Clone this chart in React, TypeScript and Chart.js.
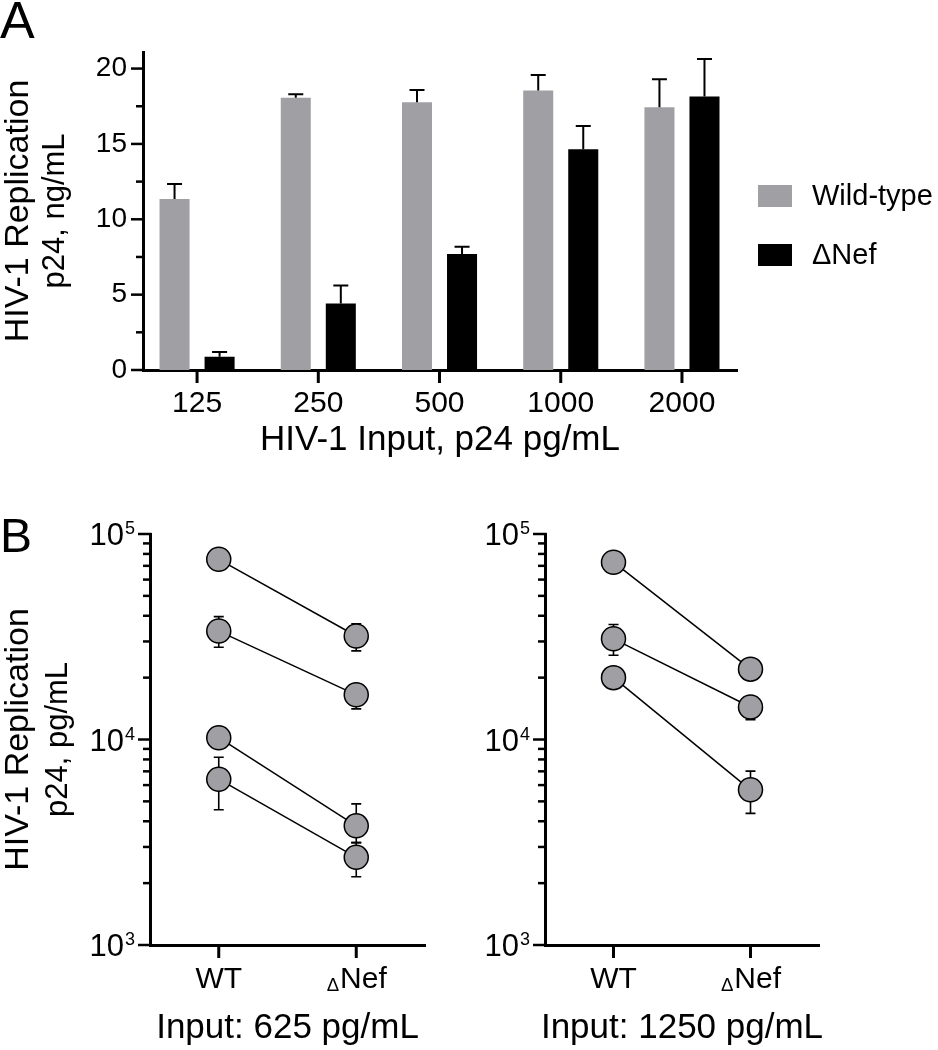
import React, { useEffect, useRef } from 'react';
import { Chart, registerables } from 'chart.js';

Chart.register(...registerables);

const FONT = '"Liberation Sans", Arial, Helvetica, sans-serif';
const GREY = '#a09fa4';
const POINT_GREY = '#a0a0a4';
const BLACK = '#000000';

// ---------- Panel A data ----------
const inputLevels = ['125', '250', '500', '1000', '2000'];
const seriesNames = ['Wild-type', 'ΔNef'];
const wildType = [11.35, 18.07, 17.76, 18.54, 17.43];
const wildTypeUpper = [12.34, 18.3, 18.58, 19.57, 19.29];
const deltaNef = [0.88, 4.42, 7.7, 14.64, 18.14];
const deltaNefUpper = [1.2, 5.6, 8.18, 16.19, 20.64];
const yTicksA = [0, 2.5, 5, 7.5, 10, 12.5, 15, 17.5, 20];
const yMaxA = 21.1;

// ---------- Panel B data ----------
const strains = ['WT', 'ΔNef'];
const logTicksB = [
  1000, 2000, 3000, 4000, 5000, 6000, 7000, 8000, 9000,
  10000, 20000, 30000, 40000, 50000, 60000, 70000, 80000, 90000, 100000,
];
const donors625 = [[75300, 31900], [33700, 16500], [10200, 3800], [6410, 2670]];
const donors625Low = [[null, 27000], [28100, 14100], [null, 3150], [4550, 2150]];
const donors625High = [[null, 36600], [39600, 18600], [null, 4860], [8200, 3150]];
const donors1250 = [[72900, 22000], [30900, 14400], [20000, 5690]];
const donors1250Low = [[null, null], [25700, 12500], [null, 4370]];
const donors1250High = [[null, null], [36300, 15500], [null, 7020]];

function drawRotated(ctx: CanvasRenderingContext2D, text: string, x: number, y: number, size: number) {
  ctx.save();
  ctx.translate(x, y);
  ctx.rotate(-Math.PI / 2);
  ctx.font = `${size}px ${FONT}`;
  ctx.textAlign = 'center';
  ctx.textBaseline = 'alphabetic';
  ctx.fillStyle = BLACK;
  ctx.fillText(text, 0, 0);
  ctx.restore();
}

function drawDeltaLabel(ctx: CanvasRenderingContext2D, label: string, cx: number, baseline: number, size: number) {
  ctx.save();
  ctx.fillStyle = BLACK;
  ctx.textBaseline = 'alphabetic';
  ctx.textAlign = 'left';
  if (label.startsWith('Δ')) {
    const rest = label.slice(1);
    const dSize = size * 0.62;
    ctx.font = `${dSize}px ${FONT}`;
    const wd = ctx.measureText('Δ').width;
    ctx.font = `${size}px ${FONT}`;
    const wr = ctx.measureText(rest).width;
    const x0 = cx - (wd + wr) / 2;
    ctx.font = `${dSize}px ${FONT}`;
    ctx.fillText('Δ', x0, baseline + 3);
    ctx.font = `${size}px ${FONT}`;
    ctx.fillText(rest, x0 + wd + 1, baseline);
  } else {
    ctx.font = `${size}px ${FONT}`;
    ctx.textAlign = 'center';
    ctx.fillText(label, cx, baseline);
  }
  ctx.restore();
}

const panelAPlugin = {
  id: 'panelA',
  afterDatasetsDraw(chart: any) {
    const ctx = chart.ctx as CanvasRenderingContext2D;
    const y = chart.scales.y;
    ctx.save();
    ctx.strokeStyle = BLACK;
    ctx.lineWidth = 2;
    chart.data.datasets.forEach((ds: any, i: number) => {
      const meta = chart.getDatasetMeta(i);
      ds.upper.forEach((u: number, j: number) => {
        const el = meta.data[j];
        const yt = y.getPixelForValue(u);
        ctx.beginPath();
        ctx.moveTo(el.x, el.y);
        ctx.lineTo(el.x, yt);
        ctx.moveTo(el.x - 7.5, yt);
        ctx.lineTo(el.x + 7.5, yt);
        ctx.stroke();
      });
    });
    ctx.restore();
  },
  afterDraw(chart: any) {
    const ctx = chart.ctx as CanvasRenderingContext2D;
    const { chartArea } = chart;
    const x = chart.scales.x;
    const y = chart.scales.y;
    ctx.save();
    ctx.strokeStyle = BLACK;
    ctx.lineWidth = 2.5;
    y.ticks.forEach((t: any) => {
      const py = y.getPixelForValue(t.value);
      const len = t.value % 5 === 0 ? 12 : 7;
      ctx.beginPath();
      ctx.moveTo(chartArea.left - len, py);
      ctx.lineTo(chartArea.left + 1.5, py);
      ctx.stroke();
    });
    ctx.lineWidth = 3;
    x.ticks.forEach((t: any) => {
      const px = x.getPixelForValue(t.value);
      ctx.beginPath();
      ctx.moveTo(px, chartArea.bottom);
      ctx.lineTo(px, chartArea.bottom + 13);
      ctx.stroke();
    });
    // panel letter
    ctx.fillStyle = BLACK;
    ctx.textAlign = 'left';
    ctx.textBaseline = 'alphabetic';
    ctx.font = `52px ${FONT}`;
    ctx.fillText('A', 0, 38);
    // axis titles
    const cy = (chartArea.top + chartArea.bottom) / 2;
    drawRotated(ctx, 'HIV-1 Replication', 28, cy, 34);
    drawRotated(ctx, 'p24, ng/mL', 64, cy, 31);
    ctx.font = `35px ${FONT}`;
    ctx.textAlign = 'center';
    ctx.fillText('HIV-1 Input, p24 pg/mL', (chartArea.left + chartArea.right) / 2, 450);
    // legend
    chart.data.datasets.forEach((ds: any, i: number) => {
      ctx.fillStyle = ds.backgroundColor;
      ctx.fillRect(758, 185 + i * 59, 34, 22);
      ctx.fillStyle = BLACK;
      ctx.font = `29px ${FONT}`;
      ctx.textAlign = 'left';
      ctx.textBaseline = 'middle';
      ctx.fillText(ds.label, 812, 197 + i * 59);
    });
    ctx.restore();
  },
};

function makePanelBPlugin(opts: { letter?: string; yTitle?: boolean; bottomTitle: string }) {
  return {
    id: 'panelB',
    beforeDatasetsDraw(chart: any) {
      const ctx = chart.ctx as CanvasRenderingContext2D;
      const y = chart.scales.y;
      ctx.save();
      ctx.strokeStyle = BLACK;
      ctx.lineWidth = 1.6;
      chart.data.datasets.forEach((ds: any, i: number) => {
        const meta = chart.getDatasetMeta(i);
        meta.data.forEach((pt: any, j: number) => {
          const lo = ds.low[j];
          const hi = ds.high[j];
          if (lo == null && hi == null) return;
          const py = pt.y;
          const cap = 5;
          ctx.beginPath();
          if (hi != null) {
            const yh = y.getPixelForValue(hi);
            ctx.moveTo(pt.x, py);
            ctx.lineTo(pt.x, yh);
            ctx.moveTo(pt.x - cap, yh);
            ctx.lineTo(pt.x + cap, yh);
          }
          if (lo != null) {
            const yl = y.getPixelForValue(lo);
            ctx.moveTo(pt.x, py);
            ctx.lineTo(pt.x, yl);
            ctx.moveTo(pt.x - cap, yl);
            ctx.lineTo(pt.x + cap, yl);
          }
          ctx.stroke();
        });
      });
      ctx.restore();
    },
    afterDraw(chart: any) {
      const ctx = chart.ctx as CanvasRenderingContext2D;
      const { chartArea } = chart;
      const x = chart.scales.x;
      const y = chart.scales.y;
      ctx.save();
      ctx.strokeStyle = BLACK;
      ctx.fillStyle = BLACK;
      y.ticks.forEach((t: any) => {
        const py = y.getPixelForValue(t.value);
        const lg = Math.log10(t.value);
        const major = Math.abs(lg - Math.round(lg)) < 1e-9;
        const len = major ? 12 : 7;
        ctx.lineWidth = 2.5;
        ctx.beginPath();
        ctx.moveTo(chartArea.left - len, py);
        ctx.lineTo(chartArea.left + 1.5, py);
        ctx.stroke();
        if (major) {
          const exp = String(Math.round(lg));
          ctx.textBaseline = 'alphabetic';
          ctx.textAlign = 'right';
          ctx.font = `18px ${FONT}`;
          const right = chartArea.left - 15;
          const we = ctx.measureText(exp).width;
          ctx.fillText(exp, right, py + 0);
          ctx.font = `31px ${FONT}`;
          ctx.fillText('10', right - we - 1, py + 11);
        }
      });
      ctx.lineWidth = 3;
      x.ticks.forEach((t: any, i: number) => {
        const px = x.getPixelForValue(t.value);
        ctx.beginPath();
        ctx.moveTo(px, chartArea.bottom);
        ctx.lineTo(px, chartArea.bottom + 13);
        ctx.stroke();
        drawDeltaLabel(ctx, chart.data.labels[i], px, chartArea.bottom + 43, 30);
      });
      ctx.textAlign = 'center';
      ctx.textBaseline = 'alphabetic';
      ctx.font = `35px ${FONT}`;
      ctx.fillText(opts.bottomTitle, (chartArea.left + chartArea.right) / 2, chartArea.bottom + 93);
      const cy = (chartArea.top + chartArea.bottom) / 2;
      if (opts.yTitle) {
        drawRotated(ctx, 'HIV-1 Replication', 28, cy, 34);
        drawRotated(ctx, 'p24, pg/mL', 67, cy, 31);
      }
      if (opts.letter) {
        ctx.textAlign = 'left';
        ctx.font = `48px ${FONT}`;
        ctx.fillText(opts.letter, 0, 62);
      }
      ctx.restore();
    },
  };
}

function barConfig(): any {
  return {
    type: 'bar',
    data: {
      labels: inputLevels,
      datasets: [
        { label: seriesNames[0], data: wildType, upper: wildTypeUpper, backgroundColor: GREY, borderWidth: 0, barPercentage: 0.667, categoryPercentage: 0.743 },
        { label: seriesNames[1], data: deltaNef, upper: deltaNefUpper, backgroundColor: BLACK, borderWidth: 0, barPercentage: 0.667, categoryPercentage: 0.743 },
      ],
    },
    options: {
      responsive: false,
      maintainAspectRatio: false,
      animation: false,
      layout: { padding: { top: 52, right: 201, left: 0, bottom: 0 } },
      plugins: { legend: { display: false }, tooltip: { enabled: false }, title: { display: false } },
      scales: {
        x: {
          type: 'category',
          offset: true,
          grid: { display: false, drawTicks: false },
          border: { display: true, color: BLACK, width: 3 },
          ticks: { font: { family: FONT, size: 30 }, color: BLACK, padding: 16, maxRotation: 0, autoSkip: false },
          afterBuildTicks: (s: any) => {
            s._startValue = -0.446;
            s._valueRange = inputLevels.length - 1 + 0.9;
          },
          afterFit: (s: any) => { s.height = 120; },
        },
        y: {
          min: 0,
          max: yMaxA,
          grid: { display: false, drawTicks: false },
          border: { display: true, color: BLACK, width: 3 },
          ticks: {
            font: { family: FONT, size: 28 },
            color: BLACK,
            padding: 16,
            callback: (v: number) => (v % 5 === 0 ? String(v) : ''),
          },
          afterBuildTicks: (s: any) => { s.ticks = yTicksA.map((v) => ({ value: v })); },
          afterFit: (s: any) => { s.width = 143; },
        },
      },
    },
    plugins: [panelAPlugin],
  };
}

function lineConfig(values: number[][], lows: (number | null)[][], highs: (number | null)[][], yWidth: number, padRight: number, plugin: any): any {
  return {
    type: 'line',
    data: {
      labels: strains,
      datasets: values.map((vals, i) => ({
        data: vals,
        low: lows[i],
        high: highs[i],
        borderColor: BLACK,
        borderWidth: 1.5,
        pointRadius: 12,
        pointBackgroundColor: POINT_GREY,
        pointBorderColor: BLACK,
        pointBorderWidth: 1.5,
        fill: false,
        clip: false,
      })),
    },
    options: {
      responsive: false,
      maintainAspectRatio: false,
      animation: false,
      layout: { padding: { top: 44, right: padRight, left: 0, bottom: 0 } },
      plugins: { legend: { display: false }, tooltip: { enabled: false } },
      scales: {
        x: {
          type: 'category',
          offset: true,
          grid: { display: false, drawTicks: false },
          border: { display: true, color: BLACK, width: 3 },
          ticks: { display: false },
          afterFit: (s: any) => { s.height = 105; },
        },
        y: {
          type: 'logarithmic',
          min: 1000,
          max: 100000,
          grid: { display: false, drawTicks: false },
          border: { display: true, color: BLACK, width: 3 },
          ticks: { display: false },
          afterBuildTicks: (s: any) => { s.ticks = logTicksB.map((v) => ({ value: v })); },
          afterFit: (s: any) => { s.width = yWidth; },
        },
      },
    },
    plugins: [plugin],
  };
}

function ChartCanvas({ make, left, top, width, height }: { make: () => any; left: number; top: number; width: number; height: number }) {
  const ref = useRef<HTMLCanvasElement | null>(null);
  useEffect(() => {
    if (!ref.current) return;
    const chart = new Chart(ref.current, make());
    return () => chart.destroy();
  }, []);
  return (
    <canvas
      ref={ref}
      width={width}
      height={height}
      style={{ position: 'absolute', left, top, width, height, display: 'block' }}
    />
  );
}

export default function App() {
  return (
    <div style={{ position: 'absolute', left: 0, top: 0, width: 938, height: 1050, background: '#fff', overflow: 'hidden' }}>
      <ChartCanvas make={barConfig} left={0} top={0} width={938} height={490} />
      <ChartCanvas
        make={() => lineConfig(donors625, donors625Low, donors625High, 150, 44, makePanelBPlugin({ letter: 'B', yTitle: true, bottomTitle: 'Input: 625 pg/mL' }))}
        left={0}
        top={490}
        width={469}
        height={560}
      />
      <ChartCanvas
        make={() => lineConfig(donors1250, donors1250Low, donors1250High, 76, 119, makePanelBPlugin({ bottomTitle: 'Input: 1250 pg/mL' }))}
        left={469}
        top={490}
        width={469}
        height={560}
      />
    </div>
  );
}
